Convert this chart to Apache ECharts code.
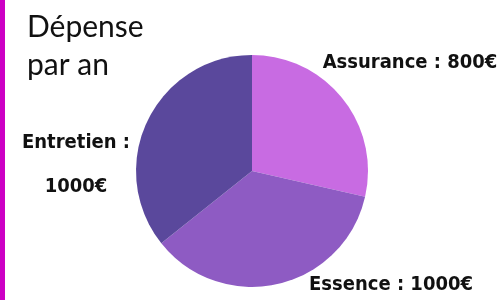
<!DOCTYPE html>
<html>
<head>
<meta charset="utf-8">
<script src="https://cdn.jsdelivr.net/npm/echarts@6/dist/echarts.min.js"></script>
<style>
html, body { margin: 0; padding: 0; background: #fff; }
#main { width: 502px; height: 300px; }
</style>
</head>
<body>
<div id="main"></div>
<script>
var categories = ['Assurance', 'Essence', 'Entretien'];
var values = [800, 1000, 1000];
var colors = ['#c86be2', '#8e5bc3', '#5a489c'];
// where each label sits (centre of text)
var labelPos = [[410, 63], [391, 285], [76, 165]];

var chart = echarts.init(document.getElementById('main'));
chart.setOption({
    title: {
        text: 'Dépense\npar an',
        left: 22,
        top: 3,
        textStyle: {
            fontFamily: 'Lato',
            fontWeight: 'normal',
            fontSize: 30,
            lineHeight: 38,
            color: '#111'
        }
    },
    graphic: [{
        type: 'rect',
        shape: { x: 0, y: 0, width: 5, height: 300 },
        style: { fill: '#cc00c4' }
    }],
    series: [{
        type: 'pie',
        center: [252, 171],
        radius: 116,
        startAngle: 90,
        clockwise: true,
        animation: false,
        data: categories.map(function (c, i) {
            return {
                name: c,
                value: values[i],
                itemStyle: { color: colors[i] },
                label: i === 2 ? { formatter: '{b} :\n{c}€' } : undefined
            };
        }),
        label: {
            show: true,
            formatter: '{b} : {c}€',
            fontFamily: '"DejaVu Sans Condensed", "DejaVu Sans"',
            fontWeight: 'bold',
            fontSize: 20,
            lineHeight: 44,
            color: '#111',
            overflow: 'none',
            width: 300
        },
        labelLine: { show: false },
        labelLayout: function (params) {
            var p = labelPos[params.dataIndex];
            return { x: p[0], y: p[1], align: 'center', verticalAlign: 'middle' };
        }
    }]
});
</script>
</body>
</html>
